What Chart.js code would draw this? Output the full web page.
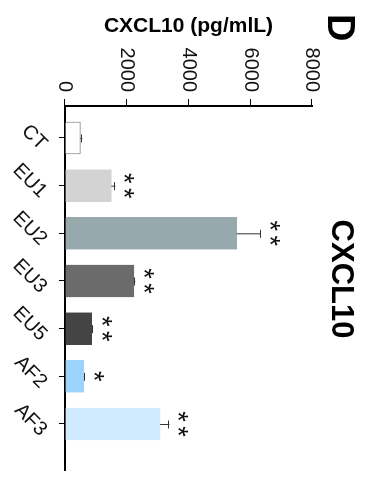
<!DOCTYPE html>
<html>
<head>
<meta charset="utf-8">
<script src="https://cdn.jsdelivr.net/npm/chart.js@4"></script>
<style>
    html, body { margin: 0; padding: 0; background: #fff; }
    #page { position: relative; width: 370px; height: 483px; overflow: hidden; }
    /* chart is drawn landscape, then turned a quarter clockwise like the figure */
    #turn { position: absolute; left: 0; top: 0; width: 483px; height: 370px;
            transform-origin: 0 0; transform: translate(370px, 0) rotate(90deg); }
</style>
</head>
<body>
<div id="page">
    <div id="turn"><canvas id="cxclChart" width="483" height="370"></canvas></div>
</div>
<script>
// CXCL10 data
const categories = ['CT', 'EU1', 'EU2', 'EU3', 'EU5', 'AF2', 'AF3'];
const means = [500, 1500, 5560, 2230, 860, 610, 3080];
const errors = [60, 130, 780, 50, 45, 30, 300];
const stars = ['', '**', '**', '**', '**', '*', '**'];
const valueTicks = [0, 2000, 4000, 6000, 8000];

const barColors = ['#ffffff', '#d3d3d3', '#98a9ae', '#6b6b6b', '#444444', '#9dd4fe', '#cfebfd'];
const barBorders = ['#8c8c8c', '#d3d3d3', '#98a9ae', '#6b6b6b', '#444444', '#9dd4fe', '#cfebfd'];
const FONT = "'Liberation Sans', Arial, sans-serif";

// one-sided error bars + significance stars
const errorBarPlugin = {
    id: 'errorBars',
    afterDatasetsDraw(chart) {
        const ctx = chart.ctx;
        const xs = chart.scales.x;
        const ys = chart.scales.y;
        ctx.save();
        ctx.strokeStyle = '#333';
        ctx.lineWidth = 1;
        means.forEach((m, i) => {
            const x = xs.getPixelForValue(i);
            const y0 = ys.getPixelForValue(m);
            const y1 = ys.getPixelForValue(m + errors[i]);
            ctx.beginPath();
            ctx.moveTo(x + 0.5, y0);
            ctx.lineTo(x + 0.5, y1);
            ctx.moveTo(x - 3.5, Math.round(y1) + 0.5);
            ctx.lineTo(x + 4.5, Math.round(y1) + 0.5);
            ctx.stroke();

            const n = stars[i].length;
            if (n > 0) {
                ctx.font = '27px ' + FONT;
                ctx.fillStyle = '#111';
                ctx.textAlign = 'center';
                ctx.textBaseline = 'alphabetic';
                const mt = ctx.measureText('*');
                const cy = y1 - 14 + (mt.actualBoundingBoxAscent - mt.actualBoundingBoxDescent) / 2;
                for (let k = 0; k < n; k++) {
                    const cx = x + (k - (n - 1) / 2) * 15;
                    ctx.fillText('*', cx, cy);
                }
            }
        });
        ctx.restore();
    },
    afterDraw(chart) {
        const ctx = chart.ctx;
        ctx.save();
        ctx.fillStyle = '#000';
        ctx.textBaseline = 'alphabetic';
        ctx.textAlign = 'left';
        ctx.font = 'bold 38px ' + FONT;
        ctx.fillText('D', 14, 42);
        ctx.textAlign = 'center';
        ctx.font = 'bold 31px ' + FONT;
        ctx.fillText('CXCL10', 279, 38);
        ctx.restore();
    }
};

const chartData = {
    datasets: [{
        data: categories.map((c, i) => ({ x: i, y: means[i] })),
        backgroundColor: barColors,
        borderColor: barBorders,
        borderWidth: 1,
        barThickness: 32
    }]
};

const chartConfig = {
    type: 'bar',
    data: chartData,
    plugins: [errorBarPlugin],
    options: {
        responsive: false,
        animation: false,
        devicePixelRatio: 1,
        layout: {
            padding: { top: 58, right: 13, left: 0, bottom: 0 }
        },
        plugins: {
            legend: { display: false },
            tooltip: { enabled: false }
        },
        scales: {
            x: {
                type: 'linear',
                min: -0.671,
                max: 6.965,
                offset: false,
                afterFit: function (scale) { scale.height = 65; },
                border: { display: true, color: '#000', width: 2 },
                grid: { offset: false, drawOnChartArea: false, drawTicks: true, tickLength: 6, color: '#000', lineWidth: 1 },
                ticks: {
                    stepSize: 1,
                    includeBounds: false,
                    autoSkip: false,
                    minRotation: 45,
                    maxRotation: 45,
                    padding: 7,
                    labelOffset: 9,
                    color: '#111',
                    font: { family: FONT, size: 20 },
                    callback: function (v) { return categories[v] ?? ''; }
                }
            },
            y: {
                min: 0,
                max: 8000,
                afterFit: function (scale) { scale.width = 106; },
                afterBuildTicks: function (scale) { scale.ticks = valueTicks.map(v => ({ value: v })); },
                border: { display: true, color: '#000', width: 2 },
                grid: { drawOnChartArea: false, drawTicks: true, tickLength: 7, color: '#000', lineWidth: 1 },
                ticks: {
                    padding: 7,
                    color: '#111',
                    font: { family: FONT, size: 20 },
                    callback: function (v) { return String(v); }
                },
                title: {
                    display: true,
                    text: 'CXCL10 (pg/mlL)',
                    color: '#000',
                    font: { family: FONT, size: 21, weight: 'bold' },
                    padding: { top: 14, bottom: 0 }
                }
            }
        }
    }
};

const cxclChart = new Chart(document.getElementById('cxclChart'), chartConfig);
</script>
</body>
</html>
